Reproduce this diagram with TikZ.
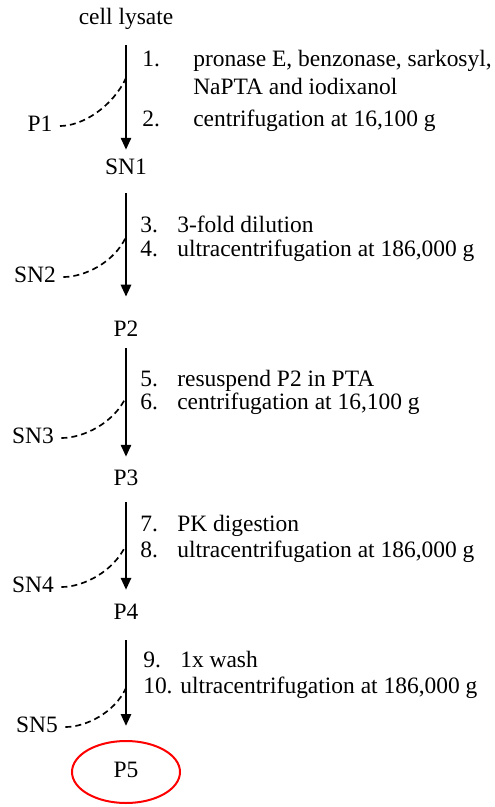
\documentclass[tikz,border=0pt]{standalone}
\usepackage{fontspec}
\setmainfont{Liberation Serif}
\usetikzlibrary{arrows.meta, shapes.geometric}

\begin{document}
\begin{tikzpicture}[
    x=0.75pt, y=0.75pt,
    >={Triangle[length=9pt, width=7.5pt]},
    every node/.style={font=\fontsize{17.6pt}{21pt}\selectfont, inner sep=0pt,
      text height=12.3pt, text depth=3.5pt},
    steptext/.style={anchor=west},
    flow/.style={->, line width=2pt},
    waste/.style={dash pattern=on 4.5pt off 3pt, line width=1.25pt,
      shorten <=5.5pt, out=0, in=-115, looseness=0.9},
    target/.style={draw=red, line width=1.5pt, ellipse,
      minimum width=81pt, minimum height=46.5pt}
  ]
  \useasboundingbox (0,0) rectangle (495,-807);

  % Main fractions
  \node (lysate) at (126,-19) {cell lysate};
  \node (sn1) at (126,-169) {SN1};
  \node (p2) at (126,-331) {P2};
  \node (p3) at (126,-480) {P3};
  \node (p4) at (126,-614) {P4};
  \node[target] (p5) at (126,-772) {P5};

  % Discarded fractions
  \node (p1) at (40,-126) {P1};
  \node (sn2) at (35,-277) {SN2};
  \node (sn3) at (33,-438) {SN3};
  \node (sn4) at (33,-587) {SN4};
  \node (sn5) at (37,-727) {SN5};

  % Split points
  \coordinate (split1) at (126,-78);
  \coordinate (split2) at (126,-237);
  \coordinate (split3) at (126,-397);
  \coordinate (split4) at (126,-545);
  \coordinate (split5) at (126,-688);

  % Steps
  \node[steptext] (n1) at (142,-61) {1.};
  \node[steptext] (t1) at (193,-61) {pronase E, benzonase, sarkosyl,};
  \node[steptext] (t1b) at (193,-89) {NaPTA and iodixanol};
  \node[steptext] (n2) at (142,-121) {2.};
  \node[steptext] (t2) at (193,-121) {centrifugation at 16,100 g};

  \node[steptext] (n3) at (140,-227) {3.};
  \node[steptext] (t3) at (177,-227) {3-fold dilution};
  \node[steptext] (n4) at (140,-251) {4.};
  \node[steptext] (t4) at (177,-251) {ultracentrifugation at 186,000 g};

  \node[steptext] (n5) at (140,-381) {5.};
  \node[steptext] (t5) at (177,-381) {resuspend P2 in PTA};
  \node[steptext] (n6) at (140,-404) {6.};
  \node[steptext] (t6) at (177,-404) {centrifugation at 16,100 g};

  \node[steptext] (n7) at (140,-526) {7.};
  \node[steptext] (t7) at (177,-526) {PK digestion};
  \node[steptext] (n8) at (140,-552) {8.};
  \node[steptext] (t8) at (177,-552) {ultracentrifugation at 186,000 g};

  \node[steptext] (n9) at (143,-662) {9.};
  \node[steptext] (t9) at (180,-662) {1x wash};
  \node[steptext] (n10) at (143,-688) {10.};
  \node[steptext] (t10) at (180,-688) {ultracentrifugation at 186,000 g};

  % Arrows
  \draw[flow, shorten <=11.5pt, shorten >=6.3pt] (lysate) -- (sn1);
  \draw[flow, shorten <=10pt, shorten >=17.6pt] (sn1) -- (p2);
  \draw[flow, shorten <=4.8pt, shorten >=9.3pt] (p2) -- (p3);
  \draw[flow, shorten <=8.6pt, shorten >=10pt] (p3) -- (p4);
  \draw[flow, shorten <=11.5pt, shorten >=10.5pt] (p4) -- (p5);

  % Discards
  \draw[waste] (p1) to (split1);
  \draw[waste] (sn2) to (split2);
  \draw[waste] (sn3) to (split3);
  \draw[waste] (sn4) to (split4);
  \draw[waste] (sn5) to (split5);
\end{tikzpicture}
\end{document}
